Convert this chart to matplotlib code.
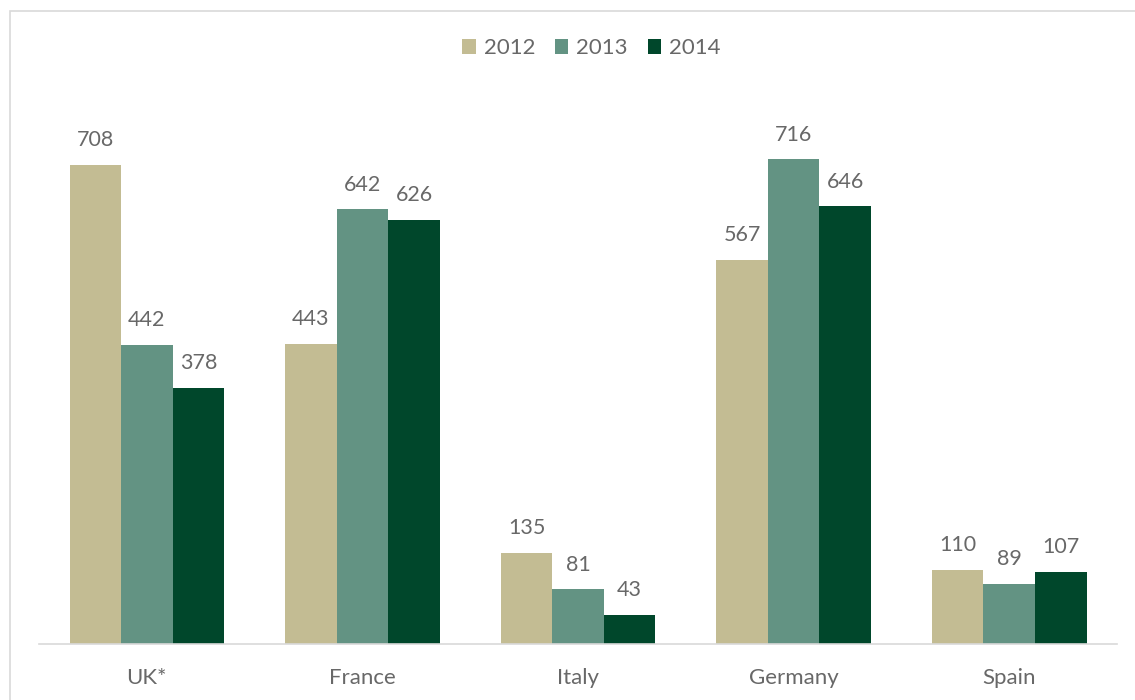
import matplotlib.pyplot as plt
import numpy as np
from matplotlib.patches import Rectangle

countries = ['UK*', 'France', 'Italy', 'Germany', 'Spain']
years = ['2012', '2013', '2014']
v2012 = [708, 443, 135, 567, 110]
v2013 = [442, 642, 81, 716, 89]
v2014 = [378, 626, 43, 646, 107]

colors = ['#C3BC93', '#639383', '#00472B']
grey = '#686868'
plt.rcParams['font.family'] = ['Lato', 'DejaVu Sans']

fig = plt.figure(figsize=(11.35, 7.0), dpi=100)
ax = fig.add_axes([0.0344, 0.08, 0.9498, 0.774])

x = np.arange(len(countries))
w = 0.239
for i, (vals, col, yr) in enumerate(zip([v2012, v2013, v2014], colors, years)):
    bars = ax.bar(x + (i - 1) * w, vals, w, color=col, label=yr, zorder=2)
    for b, v in zip(bars, vals):
        ax.annotate(str(v), (b.get_x() + b.get_width() / 2, v),
                    xytext=(0, 10.5), textcoords='offset points',
                    ha='center', va='bottom', fontsize=15.5, color=grey)

ax.set_xlim(-0.5, len(countries) - 0.5)
ax.set_ylim(0, 800)
ax.set_yticks([])
ax.set_xticks(x)
ax.set_xticklabels(countries, fontsize=16, color=grey)
ax.tick_params(axis='x', length=0, pad=17)
for s in ['top', 'right', 'left']:
    ax.spines[s].set_visible(False)
ax.spines['bottom'].set_color('#D9D9D9')
ax.spines['bottom'].set_linewidth(1.2)

leg = ax.legend(loc='center', bbox_to_anchor=(0.521, 0.931), bbox_transform=fig.transFigure,
                ncol=3, frameon=False, fontsize=16, handlelength=0.6, handleheight=0.6,
                handletextpad=0.35, columnspacing=0.9)
for t in leg.get_texts():
    t.set_color(grey)

# outer chart frame, running off the right and bottom edges
fig.patches.append(Rectangle((10 / 1135, -0.1), 1.2, 1.1 - 11 / 700,
                             transform=fig.transFigure, fill=False,
                             edgecolor='#D9D9D9', linewidth=1.2))

fig.savefig('out.png', dpi=100)
